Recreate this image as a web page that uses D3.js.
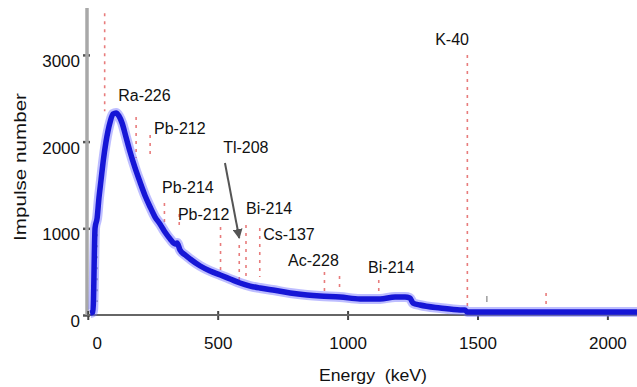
<!DOCTYPE html>
<html>
<head>
<meta charset="utf-8">
<script src="https://cdn.jsdelivr.net/npm/d3@7"></script>
<style>
  html, body { margin: 0; padding: 0; background: #fff; }
  svg { display: block; font-family: "Liberation Sans", Arial, sans-serif; }
</style>
</head>
<body>
<svg id="chart" width="637" height="387"></svg>
<script>
// ---- data ----
const spectrumEnergy = [9, 20, 28, 36, 43, 51, 59, 70, 86, 97, 109, 120, 132, 147, 163, 182, 201, 221, 240, 259, 278, 297, 317, 336, 344, 355, 375, 394, 433, 471, 510, 548, 586, 625, 663, 713, 779, 844, 894, 971, 1048, 1125, 1183, 1221, 1240, 1252, 1279, 1356, 1433, 1452, 1460, 1588, 1780, 1972, 2114];
const spectrumCounts = [23, 35, 1003, 1119, 1349, 1557, 1765, 1995, 2226, 2318, 2330, 2295, 2215, 2053, 1880, 1696, 1534, 1373, 1246, 1130, 1050, 957, 877, 819, 830, 750, 692, 646, 565, 507, 461, 415, 369, 334, 311, 288, 254, 231, 219, 208, 185, 185, 208, 208, 196, 138, 115, 81, 58, 58, 35, 35, 35, 35, 35];

// reference peak lines (energy, top count, bottom count)
const peakEnergy = [65, 186, 240, 295, 352, 511, 583, 609, 662, 911, 969, 1120, 1461, 1764];
const peakTop    = [3480, 2284, 2076, 1292, 1165, 1015, 807, 1038, 1003, 496, 450, 404, 3000, 254];
const peakBottom = [2350, 1811, 1811, 1003, 1015, 519, 404, 427, 438, 277, 265, 265, 46, 92];

// grey marks
const greyEnergy = [36, 1536];
const greyTop    = [930, 219];
const greyBottom = [150, 150];

// annotations
const labelText   = ["Ra-226", "Pb-212", "Tl-208", "Pb-214", "Pb-212", "Bi-214", "Cs-137", "Ac-228", "Bi-214", "K-40"];
const labelEnergy = [117, 255, 521, 286, 347, 609, 675, 771, 1079, 1337];
const labelCounts = [2537, 2157, 1938, 1476, 1165, 1234, 934, 634, 554, 3183];

const arrowFrom = [528, 1753];
const arrowTo   = [583, 888];

const xTicks = [0, 500, 1000, 1500, 2000];
const yTicks = [0, 1000, 2000, 3000];
const xTitle = "Energy  (keV)";
const yTitle = "Impulse number";

// ---- scales ----
const svg = d3.select("#chart");
const x = d3.scaleLinear().domain([-3, 2114]).range([87, 637]);
const y = d3.scaleLinear().domain([0, 3541]).range([315, 8]);

// ---- axes ----
const yAxis = svg.append("g").attr("transform", "translate(87,0)")
  .call(d3.axisLeft(y).tickValues(yTicks).tickSize(4).tickPadding(3).tickFormat(d3.format("d")));
yAxis.select(".domain").remove();
yAxis.selectAll(".tick line").attr("x1", 3).attr("stroke", "#555").attr("stroke-width", 2.5);
yAxis.selectAll(".tick text").attr("font-size", 17).attr("fill", "#111")
  .attr("font-family", "Liberation Sans, Arial, sans-serif")
  .attr("transform", "translate(0,6)");

svg.append("line").attr("x1", 87).attr("x2", 87).attr("y1", y.range()[1]).attr("y2", y(0))
  .attr("stroke", "#a8a8a8").attr("stroke-width", 3.5);

const xAxis = svg.append("g").attr("transform", "translate(0,315)")
  .call(d3.axisBottom(x).tickValues(xTicks).tickSize(5).tickFormat(d3.format("d")));
xAxis.select(".domain").remove();
xAxis.selectAll(".tick line").attr("y1", -4).attr("stroke", "#444").attr("stroke-width", 2);
xAxis.selectAll(".tick text").attr("font-size", 17).attr("fill", "#111")
  .attr("font-family", "Liberation Sans, Arial, sans-serif")
  .attr("y", 22)
  .attr("dx", d => d === 0 ? 9 : 0);

svg.append("line").attr("x1", x.range()[0]).attr("x2", x.range()[1]).attr("y1", y(0)).attr("y2", y(0))
  .attr("stroke", "#666").attr("stroke-width", 2);

// axis titles
svg.append("text").attr("x", 373).attr("y", 381).attr("text-anchor", "middle")
  .attr("font-size", 17).attr("fill", "#111")
  .attr("textLength", 108).attr("lengthAdjust", "spacingAndGlyphs")
  .style("white-space", "pre").text(xTitle);
svg.append("text").attr("transform", "translate(26,167) rotate(-90)").attr("text-anchor", "middle")
  .attr("font-size", 17).attr("fill", "#111")
  .attr("textLength", 148).attr("lengthAdjust", "spacingAndGlyphs")
  .text(yTitle);

// ---- peak lines ----
svg.append("g").selectAll("line").data(peakEnergy).join("line")
  .attr("x1", d => x(d)).attr("x2", d => x(d))
  .attr("y1", (d, i) => y(peakTop[i])).attr("y2", (d, i) => y(peakBottom[i]))
  .attr("stroke", "#e05050").attr("stroke-opacity", 0.75)
  .attr("stroke-width", 1.6).attr("stroke-dasharray", "3,5");

svg.append("g").selectAll("line").data(greyEnergy).join("line")
  .attr("x1", d => x(d)).attr("x2", d => x(d))
  .attr("y1", (d, i) => y(greyTop[i])).attr("y2", (d, i) => y(greyBottom[i]))
  .attr("stroke", "#666").attr("stroke-opacity", 0.6)
  .attr("stroke-width", 1.6).attr("stroke-dasharray", (d, i) => i === 0 ? "2,9" : "6,20");

// ---- spectrum ----
const pts = spectrumEnergy.map((e, i) => [e, spectrumCounts[i]]);
const line = d3.line().x(d => x(d[0])).y(d => y(d[1])).curve(d3.curveMonotoneX);
svg.append("path").datum(pts).attr("d", line)
  .attr("fill", "none").attr("stroke", "#6d6dff").attr("stroke-opacity", 0.45)
  .attr("stroke-width", 10).attr("stroke-linejoin", "round");
svg.append("path").datum(pts).attr("d", line)
  .attr("fill", "none").attr("stroke", "#1616d6")
  .attr("stroke-width", 5.5).attr("stroke-linejoin", "round");

// ---- arrow ----
const defs = svg.append("defs");
defs.append("marker").attr("id", "ah").attr("viewBox", "0 0 10 10")
  .attr("refX", 9).attr("refY", 5).attr("markerWidth", 5).attr("markerHeight", 5)
  .attr("orient", "auto")
  .append("path").attr("d", "M0,0 L10,5 L0,10 z").attr("fill", "#555");
svg.append("line")
  .attr("x1", x(arrowFrom[0])).attr("y1", y(arrowFrom[1]))
  .attr("x2", x(arrowTo[0])).attr("y2", y(arrowTo[1]))
  .attr("stroke", "#555").attr("stroke-width", 2).attr("marker-end", "url(#ah)");

// ---- labels ----
svg.append("g").selectAll("text").data(labelText).join("text")
  .attr("x", (d, i) => x(labelEnergy[i])).attr("y", (d, i) => y(labelCounts[i]))
  .attr("dy", "0.36em").attr("font-size", 16).attr("fill", "#111")
  .text(d => d);
</script>
</body>
</html>
